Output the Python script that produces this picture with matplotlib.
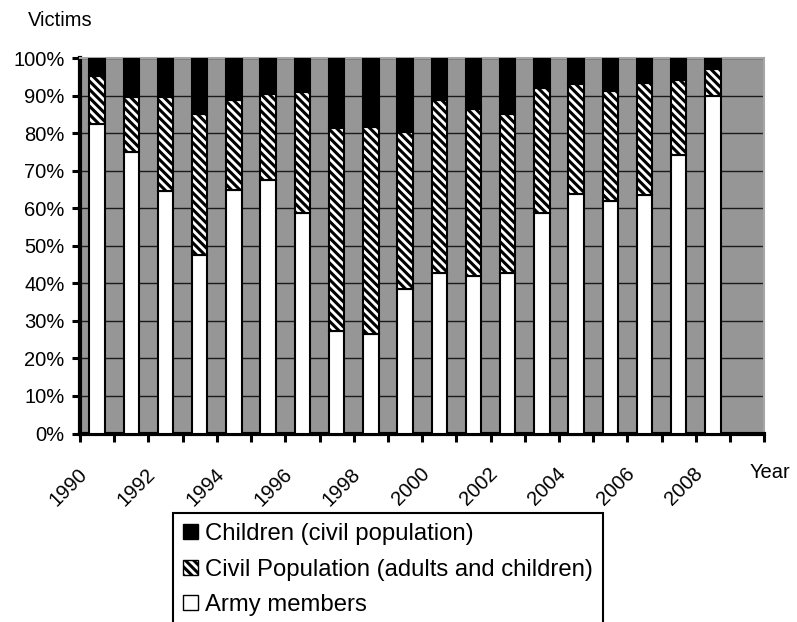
import matplotlib
matplotlib.use('Agg')
import matplotlib.pyplot as plt
from matplotlib.patches import Patch
from matplotlib.transforms import ScaledTranslation

plt.rcParams['font.family'] = ['Liberation Sans', 'DejaVu Sans']
plt.rcParams['hatch.linewidth'] = 2.2

# data (share of victims, %)
years = list(range(1990, 2009))
army = [82.5, 74.9, 64.5, 47.6, 64.9, 67.6, 58.9, 27.2, 26.5, 38.5,
        42.9, 42.0, 42.7, 58.7, 63.9, 61.9, 63.6, 74.3, 90.0]
civil = [12.8, 14.9, 25.3, 37.5, 24.0, 22.8, 32.1, 54.3, 55.2, 41.8,
         46.0, 44.4, 42.5, 33.3, 29.3, 29.4, 29.8, 20.0, 7.2]
children = [4.7, 10.2, 10.2, 14.9, 11.1, 9.6, 9.0, 18.5, 18.3, 19.7,
            11.1, 13.6, 14.8, 8.0, 6.8, 8.7, 6.6, 5.7, 2.8]
labels = ['Children (civil population)',
          'Civil Population (adults and children)',
          'Army members']

HATCH = '\\\\\\\\'

W, H = 797, 622
fig = plt.figure(figsize=(W / 100, H / 100), dpi=100)
ax = fig.add_axes([80 / W, (H - 433.5) / H, (764.3 - 80) / W, (433.5 - 58.3) / H])
ax.set_facecolor('#969696')

x = [i + 0.5 for i in range(len(years))]
bottom_civil = army
bottom_child = [a + c for a, c in zip(army, civil)]
w = 0.45
ax.bar(x, army, w, color='white', edgecolor='black', linewidth=1.5, zorder=3)
ax.bar(x, civil, w, bottom=bottom_civil, color='white', edgecolor='black',
       hatch=HATCH, linewidth=1.5, zorder=3)
ax.bar(x, children, w, bottom=bottom_child, color='black', edgecolor='black',
       linewidth=1.5, zorder=3)

ax.set_xlim(0, 20)
ax.set_ylim(0, 100)
ax.set_yticks(range(0, 101, 10))
ax.set_yticklabels(['%d%%' % v for v in range(0, 101, 10)], fontsize=14.5)
ax.yaxis.grid(True, color='#1a1a1a', linewidth=1)
ax.set_axisbelow(True)

ax.set_xticks(range(0, 21))
ax.set_xticklabels([])
ax.set_xticks([i + 0.5 for i in range(0, len(years), 2)], minor=True)
ax.set_xticklabels([str(y) for y in years[::2]], minor=True, fontsize=14.5,
                   rotation=45, ha='right', va='center', rotation_mode='anchor')
ax.tick_params(axis='x', which='minor', length=0, pad=27)
ax.tick_params(axis='both', which='major', length=6, width=2.2, direction='out')
ax.tick_params(axis='y', pad=5)
off = ScaledTranslation(-13 / 100, 0, fig.dpi_scale_trans)
for lab in ax.xaxis.get_minorticklabels():
    lab.set_transform(lab.get_transform() + off)

for s in ['left', 'bottom']:
    ax.spines[s].set_linewidth(3)
    ax.spines[s].set_color('black')
for s in ['top', 'right']:
    ax.spines[s].set_linewidth(1.5)
    ax.spines[s].set_color('#a6a6a6')

fig.text(60 / W, 1 - 20 / H, 'Victims', fontsize=14.5, ha='center', va='center')
fig.text(770 / W, 1 - 472 / H, 'Year', fontsize=14.5, ha='center', va='center')

handles = [Patch(facecolor='black', edgecolor='black'),
           Patch(facecolor='white', edgecolor='black', hatch=HATCH),
           Patch(facecolor='white', edgecolor='black')]
leg = fig.legend(handles, labels, loc='upper left',
                 bbox_to_anchor=(173.3 / W, 1 - 513.3 / H), fontsize=17.2,
                 frameon=True, fancybox=False, framealpha=1, edgecolor='black',
                 borderaxespad=0, borderpad=0.42, handlelength=0.6,
                 handleheight=0.6, handletextpad=0.3, labelspacing=0.56)
leg.get_frame().set_linewidth(1.5)

fig.savefig('out.png', dpi=100)
